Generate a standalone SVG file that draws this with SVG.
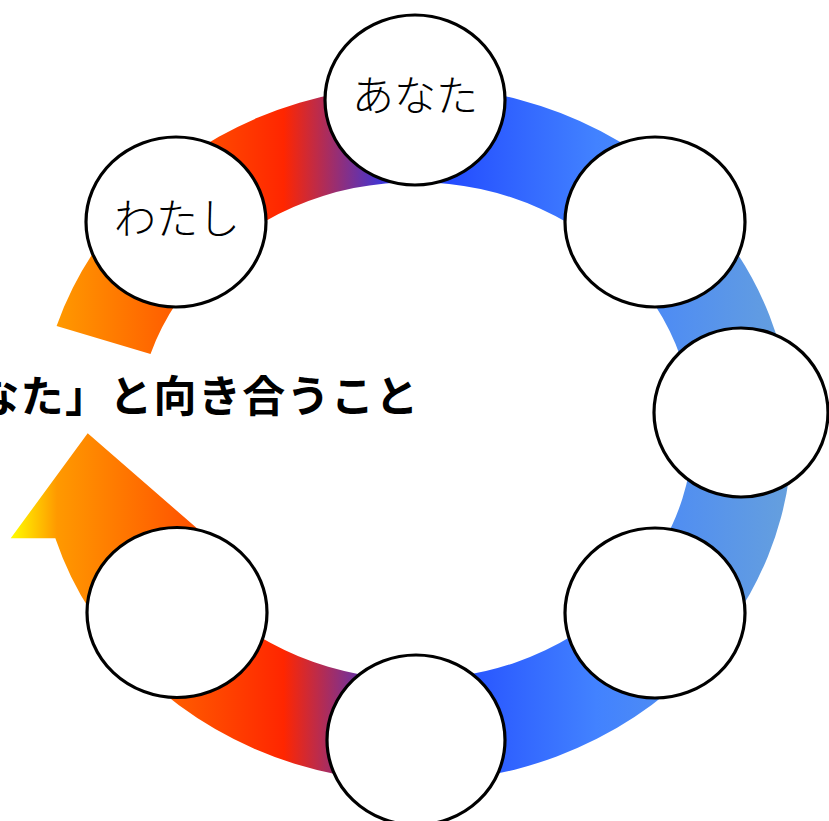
<svg xmlns="http://www.w3.org/2000/svg" width="829" height="821" viewBox="0 0 829 821">
  <defs>
    <linearGradient id="ringGrad" gradientUnits="userSpaceOnUse" x1="10" y1="0" x2="792" y2="0">
      <stop offset="0" stop-color="#ffff00"/>
      <stop offset="0.06" stop-color="#ff9900"/>
      <stop offset="0.24" stop-color="#ff5000"/>
      <stop offset="0.35" stop-color="#ff2600"/>
      <stop offset="0.50" stop-color="#1a38ff"/>
      <stop offset="0.60" stop-color="#2a58ff"/>
      <stop offset="0.75" stop-color="#4282ff"/>
      <stop offset="1" stop-color="#66a0dd"/>
    </linearGradient>
  </defs>
  <style>
    .node { fill: #ffffff; stroke: #000000; stroke-width: 3.2; }
    .lbl { font-family: "Noto Sans CJK JP", "Noto Sans", sans-serif; font-size: 42px; font-weight: 300; fill: #000000; text-anchor: middle; }
    .title { font-family: "Noto Sans CJK JP", "Noto Sans", sans-serif; font-size: 43px; font-weight: bold; letter-spacing: 1.35px; fill: #000000; }
  </style>

  <g id="connectors">
    <path d="M 56.61 326 A 377 348 0 1 1 55.33 538.3 L 10.7 538.3 L 87.7 433.3 L 208.5 538.3 L 164.44 538.3 A 278 248.6 0 1 0 150.53 354 Z" fill="url(#ringGrad)"/>
  </g>

  <g id="title">
    <text class="title" x="-112.5" y="412">「あなた」と向き合うこと</text>
  </g>

  <g id="node-top">
    <ellipse class="node" cx="415" cy="100" rx="90" ry="85"/>
    <text class="lbl" x="415" y="111">あなた</text>
  </g>
  <g id="node-top-right">
    <ellipse class="node" cx="655" cy="222" rx="90" ry="85"/>
  </g>
  <g id="node-right">
    <ellipse class="node" cx="741" cy="412.5" rx="87" ry="84.5"/>
  </g>
  <g id="node-bottom-right">
    <ellipse class="node" cx="655" cy="613" rx="90" ry="85"/>
  </g>
  <g id="node-bottom">
    <ellipse class="node" cx="416" cy="740" rx="89" ry="85"/>
  </g>
  <g id="node-bottom-left">
    <ellipse class="node" cx="177" cy="612.5" rx="90" ry="85"/>
  </g>
  <g id="node-top-left">
    <ellipse class="node" cx="176" cy="222" rx="90" ry="85"/>
    <text class="lbl" x="177" y="234">わたし</text>
  </g>
</svg>
